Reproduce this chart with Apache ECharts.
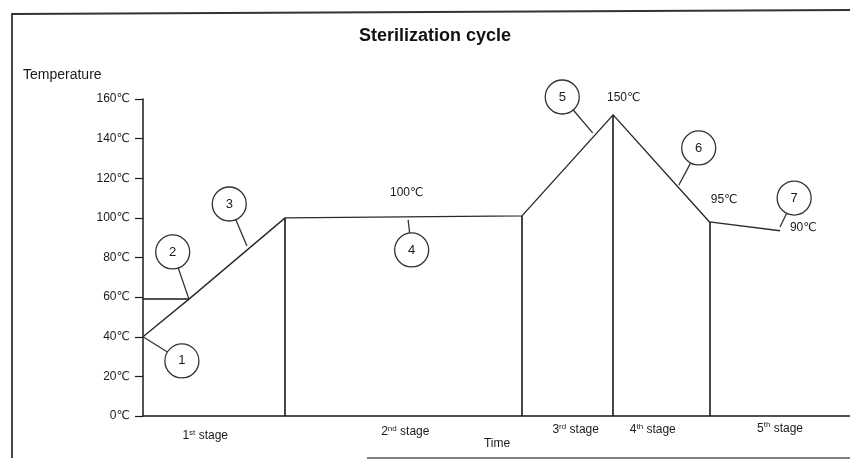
<!DOCTYPE html>
<html>
<head>
<meta charset="utf-8">
<script src="https://cdn.jsdelivr.net/npm/echarts@6/dist/echarts.min.js"></script>
<style>html,body{margin:0;padding:0;background:#fff;}#c{width:850px;height:461px;}</style>
</head>
<body>
<div id="c"></div>
<script>
// Temperature profile (time in arbitrary units, temperature in °C)
var profileTime = [0, 6.5, 20.1, 53.6, 66.5, 80.1, 90.1];
var profileTemp = [40, 59, 100, 101, 152, 98, 93.5];
// Stage boundaries (vertical lines) – indices into the profile
var boundaryIdx = [2, 3, 4, 5];
// Y tick labels
var yTicks = [0, 20, 40, 60, 80, 100, 120, 140, 160];
// Stage labels
var stageNames = ['1', '2', '3', '4', '5'];
var stageSup = ['st', 'nd', 'rd', 'th', 'th'];
var stageX = [8.8, 37.1, 61.2, 72.1, 90.1];
var stageY = [-10.1, -7.8, -6.8, -6.8, -6.2];
// Callouts: number, circle centre (x,y), anchor (x,y)
var calloutNum = [1, 2, 3, 4, 5, 6, 7];
var calloutCx = [5.5, 4.2, 12.2, 38.0, 59.3, 78.6, 92.1];
var calloutCy = [27.8, 82.8, 107, 83.8, 161, 135.3, 110];
var calloutAx = [0, 6.5, 14.7, 37.5, 63.6, 75.8, 90.1];
var calloutAy = [40, 59, 85.8, 99, 142.9, 116.6, 95.4];
// Temperature value labels
var valueText = ['100℃', '150℃', '95℃', '90℃'];
var valueX = [37.3, 68.0, 82.2, 93.4];
var valueY = [112.6, 160.5, 109, 94.9];

var FONT = '"Liberation Sans", "DejaVu Sans", Arial, sans-serif';
var INK = '#1a1a1a';

var profileData = profileTime.map(function (t, i) { return [t, profileTemp[i]]; });
var verticalLines = boundaryIdx.map(function (i) {
  return [{ coord: [profileTime[i], 0] }, { coord: [profileTime[i], profileTemp[i]] }];
});
var calloutData = calloutNum.map(function (n, i) {
  return [calloutCx[i], calloutCy[i], calloutAx[i], calloutAy[i], n];
});
var stageData = stageNames.map(function (n, i) { return [stageX[i], stageY[i], i]; });
var valueData = valueText.map(function (t, i) { return [valueX[i], valueY[i], i]; });

var chart = echarts.init(document.getElementById('c'), null, { renderer: 'canvas' });
chart.setOption({
  animation: false,
  backgroundColor: '#fff',
  grid: { left: 143, right: 0, top: 99, bottom: 45, containLabel: false },
  xAxis: {
    type: 'value', min: 0, max: 100,
    axisLine: { show: true, lineStyle: { color: INK, width: 1.5 } },
    axisTick: { show: false }, axisLabel: { show: false }, splitLine: { show: false }
  },
  yAxis: {
    type: 'value', min: 0, max: 160, interval: 20,
    axisLine: { show: true, lineStyle: { color: INK, width: 1.5 } },
    axisTick: { show: true, length: 8, lineStyle: { color: INK, width: 1.2 } },
    axisLabel: { formatter: function (v) { return yTicks.indexOf(v) >= 0 ? v + '℃' : ''; }, color: INK, fontSize: 12, fontFamily: FONT, margin: 13 },
    splitLine: { show: false }
  },
  graphic: [
    { type: 'text', x: 435, y: 36, style: { text: 'Sterilization cycle', font: 'bold 18px ' + FONT, fill: '#111', align: 'center', verticalAlign: 'middle' } },
    { type: 'text', x: 23, y: 75, style: { text: 'Temperature', font: '14px ' + FONT, fill: INK, verticalAlign: 'middle' } },
    { type: 'text', x: 497, y: 444, style: { text: 'Time', font: '12px ' + FONT, fill: INK, align: 'center', verticalAlign: 'middle' } },
    { type: 'polyline', shape: { points: [[12, 458], [12, 14], [851, 10]] }, style: { stroke: '#333', lineWidth: 1.8, fill: null } },
    { type: 'line', shape: { x1: 367, y1: 458, x2: 851, y2: 458 }, style: { stroke: '#555', lineWidth: 1.5 } }
  ],
  series: [
    {
      type: 'line', data: profileData, showSymbol: false, symbol: 'none',
      lineStyle: { color: '#2a2a2a', width: 1.4 },
      markLine: {
        silent: true, symbol: 'none', label: { show: false },
        lineStyle: { color: '#1a1a1a', width: 1.6, type: 'solid' },
        data: verticalLines.concat([[{ coord: [0, 59] }, { coord: [6.5, 59] }]])
      }
    },
    {
      type: 'custom', clip: false, data: calloutData,
      renderItem: function (params, api) {
        var c = api.coord([api.value(0), api.value(1)]);
        var a = api.coord([api.value(2), api.value(3)]);
        var r = 17;
        var dx = a[0] - c[0], dy = a[1] - c[1];
        var d = Math.sqrt(dx * dx + dy * dy);
        var e = [c[0] + dx / d * r, c[1] + dy / d * r];
        return {
          type: 'group',
          children: [
            { type: 'line', shape: { x1: e[0], y1: e[1], x2: a[0], y2: a[1] }, style: { stroke: '#333', lineWidth: 1.3 } },
            { type: 'circle', shape: { cx: c[0], cy: c[1], r: r }, style: { stroke: '#333', lineWidth: 1.3, fill: '#fff' } },
            { type: 'text', x: c[0], y: c[1], style: { text: String(api.value(4)), font: '13px ' + FONT, fill: INK, align: 'center', verticalAlign: 'middle' } }
          ]
        };
      }
    },
    {
      type: 'custom', clip: false, data: stageData,
      renderItem: function (params, api) {
        var p = api.coord([api.value(0), api.value(1)]);
        var i = api.value(2);
        return {
          type: 'text', x: p[0], y: p[1],
          style: {
            text: '{n|' + stageNames[i] + '}{s|' + stageSup[i] + '}{n| stage}',
            align: 'center', verticalAlign: 'middle', fill: INK,
            rich: {
              n: { fontSize: 12, fontFamily: FONT, fill: INK },
              s: { fontSize: 8, fontFamily: FONT, fill: INK, verticalAlign: 'top', padding: [0, 0, 6, 0] }
            }
          }
        };
      }
    },
    {
      type: 'custom', clip: false, data: valueData,
      renderItem: function (params, api) {
        var p = api.coord([api.value(0), api.value(1)]);
        return {
          type: 'text', x: p[0], y: p[1],
          style: { text: valueText[api.value(2)], font: '12px ' + FONT, fill: INK, align: 'center', verticalAlign: 'middle' }
        };
      }
    }
  ]
});
</script>
</body>
</html>
